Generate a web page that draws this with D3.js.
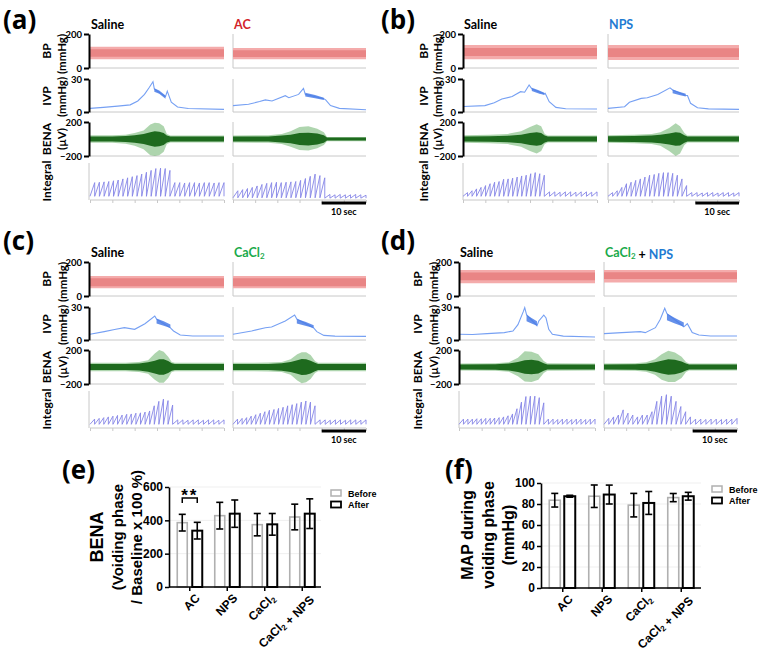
<!DOCTYPE html>
<html><head><meta charset="utf-8">
<script src="https://cdn.jsdelivr.net/npm/d3@7"></script>
<style>body{margin:0;background:#fff}svg{display:block}</style>
</head><body>
<svg id="c" width="761" height="652"></svg>
<script>
// ---------------- DATA ----------------
const panelLetters = ['(a)','(b)','(c)','(d)','(e)','(f)'];
const conditions = ['AC','NPS','CaCl2','CaCl2 + NPS'];
const traceTime = [0, 30]; // seconds shown per trace
const scaleBarSec = 10;
const bpTicks = [0, 200], ivpTicks = [0, 30], benaTicks = [-200, 200];
// trace order: a-Saline, a-AC, b-Saline, b-NPS, c-Saline, c-CaCl2, d-Saline, d-CaCl2+NPS
const bpBand = [[51,125],[51,118],[51,135],[47,135],[45,118],[45,118],[75,153],[80,153]];
const bpCore = [[66,110],[64,104],[70,118],[64,116],[58,104],[58,104],[92,138],[100,140]];

const ivpLines = [
 [[0,3.3],[3,4.2],[6.2,5.3],[9,6.5],[10.7,10],[12.2,16],[13.3,22.5],[14.1,27.5],[14.4,21],[16.9,14],[17.3,19],[18.2,9],[19.6,4.5],[22,3.2],[30,2.4]],
 [[0,5.8],[3.5,7],[6,9.5],[7.3,11],[8.8,10],[11.8,14.8],[12.6,13],[14.8,16],[15.9,21.5],[16.3,16],[20.5,12],[20.9,11],[22,5.8],[24,3.3],[30,2]],
 [[0,5],[4.9,5.8],[7,8.5],[8.7,11.8],[11,14],[12.9,18.5],[13.8,18],[14.8,24.5],[15.4,21],[18.2,16.5],[18.4,17],[19.3,9.4],[20.8,4.2],[23,3],[30,2.7]],
 [[0,3.3],[3.8,4.8],[4.9,8.8],[7.6,12.4],[9,13],[11.4,16],[14.2,22],[14.8,20],[17.8,15],[18.2,15],[18.9,7.9],[20.5,3.9],[23,2.8],[30,2.4]],
 [[0,5.2],[3.2,7.6],[5.5,9.5],[7.7,11.2],[10,9.7],[12.3,14.8],[14.5,21.8],[14.9,19],[18,11],[18.7,8.2],[20.2,4.5],[23,3.7],[30,3.6]],
 [[0,5.2],[4.2,8.2],[7.3,11.2],[8.7,11.8],[11.8,17.3],[13.9,22.7],[14.4,19],[18.2,11],[18.9,7.6],[20.5,4.2],[23,3.5],[30,3.3]],
 [[0,5.2],[3,5],[6.2,5.8],[10,6.7],[11.9,8.2],[13,14],[14.2,26],[14.5,29.5],[14.9,23],[17.2,13],[17.6,17.3],[18.7,22.7],[19.2,20],[19.8,9.7],[20.6,5.2],[23,3.5],[30,2.7]],
 [[0,5.8],[4,6.7],[8.2,7.6],[9.3,6.7],[11.6,11.2],[12.7,18.8],[13.7,28.8],[14.2,24],[18,12],[18.8,14.8],[19.9,6.7],[21.4,4.5],[24,3.7],[30,3.6]]
];
// voiding oscillation band: [t, low, high]
const ivpVoidBands = [
 [[14.4,18.5,21.5],[15.5,16.5,19.5],[16.9,12,15]],
 [[16.3,14,17.5],[18.5,12.5,15.5],[20.5,11,13]],
 [[15.4,19,22],[16.8,17,20],[18.2,15.5,17.5]],
 [[14.8,17,20.5],[16.3,15.5,18.5],[17.8,14,16.5]],
 [[14.9,15,19.5],[16.5,13,17],[18,11,14]],
 [[14.4,15,19],[16.3,13,16.5],[18.2,11,13.5]],
 [[14.9,17,23],[16,15,20],[17.2,13,17]],
 [[14.2,18,24],[16,15,20],[18,12,16]]
];
// BENA envelopes (µV): time points, dense core amplitude, outer spike extent up / down
const benaT = [
 [0,5,8,10,12,13.5,14.5,15.5,16.5,17.2,18,30],
 [0,8,11,13,15,17,19,20.5,21.2,30],
 [0,6,10,13,15,16.5,17.5,18.3,19,30],
 [0,6,10,12,14,15.5,16.5,17.5,18.2,30],
 [0,8,11,13,14.5,15.5,16.5,17.5,18.3,19,30],
 [0,8,11,13,14.5,15.5,16.5,17.5,18.5,19.2,30],
 [0,8,11,13,14.5,16,17.5,18.7,19.5,30],
 [0,7,9.5,11.5,13,14.5,16,17.5,18.5,19.2,30]
];
const benaCore = [
 [30,30,35,45,60,80,90,85,70,40,28,28],
 [28,30,40,50,70,75,65,45,18,18],
 [30,32,38,50,70,80,70,40,30,28],
 [32,35,40,50,65,80,75,45,30,28],
 [36,36,42,55,75,90,90,70,45,36,36],
 [36,36,45,60,80,95,90,75,50,36,36],
 [30,32,40,60,80,85,75,45,30,30],
 [30,32,38,55,75,90,85,65,40,30,30]
];
const benaUp = [
 [45,45,50,70,100,170,190,185,150,60,40,40],
 [40,45,60,90,140,150,120,80,25,25],
 [45,50,60,90,140,175,150,60,40,40],
 [45,50,60,80,130,185,150,70,40,40],
 [50,50,60,80,160,200,180,120,60,50,50],
 [50,52,60,90,150,175,175,140,70,50,50],
 [40,45,55,110,185,180,150,70,45,40],
 [40,45,55,90,150,190,170,120,60,40,40]
];
const benaDown = [
 [45,45,55,80,120,190,200,190,150,60,40,40],
 [40,45,60,90,130,135,110,70,25,25],
 [45,50,60,90,140,170,140,60,40,40],
 [45,50,60,80,140,200,170,70,40,40],
 [50,50,60,80,150,185,185,130,60,50,50],
 [50,52,60,90,160,190,180,140,70,50,50],
 [40,45,55,110,170,175,150,70,45,40],
 [40,45,55,90,150,175,175,130,60,40,40]
];
// Integral sawtooth segments: [tStart, tEnd, base, tooth peaks]
const integralSegs = [
 [[0,17.9,10,[47,48,49,50,52,54,57,60,63,66,70,75,80,85,86,85,80]],[17.9,30,10,[47,47,46,47,47,46,47,47,46,47,47]]],
 [[0,20.7,6,[25,28,31,34,38,42,45,47,48,47,48,49,50,53,58,64,70,66,60]],[20.7,30,5,[15,14,15,14,14,15,14,13]]],
 [[0,18.2,10,[20,25,30,34,39,44,48,50,56,57,59,62,65,67,71,74,71,67]],[18.2,30,10,[22,22,21,22,22,21,22,22,21,22]]],
 [[0,18,10,[20,25,34,44,48,53,57,62,67,69,72,74,74,72,67,57,39]],[18,30,10,[20,20,19,20,20,19,20,20,19,20]]],
 [[0,18.5,10,[24,26,28,30,32,34,35,37,38,40,41,43,46,60,72,78,74,62]],[18.5,30,10,[22,22,21,22,22,21,22,22,21,22]]],
 [[0,18.5,10,[24,26,28,32,36,40,44,48,50,53,56,60,63,66,70,73,70,60]],[18.5,30,10,[22,22,21,22,22,21,22,22,21,22]]],
 [[0,18.7,10,[24,24,24,25,25,26,26,27,28,30,33,38,52,70,85,86,86,82,68]],[18.7,30,10,[24,24,23,24,24,23,24,24,23,24,24]]],
 [[0,19.5,10,[26,30,35,49,40,35,30,35,35,44,72,86,90,86,72,58,44,30]],[19.5,30,10,[24,24,23,24,24,23,24,24,26]]]
];

// bar charts (mean, SEM)
const benaBefore = [386,428,374,420], benaBeforeErr = [50,80,67,77];
const benaAfter  = [338,440,376,440], benaAfterErr  = [50,82,65,89];
const benaYTicks = [0,200,400,600];
const mapBefore = [83.6,87.4,78.9,86.1], mapBeforeErr = [6.5,10.7,11.2,3.9];
const mapAfter  = [87.4,89.0,81.0,87.4], mapAfterErr  = [0.9,9.0,10.9,3.7];
const mapYTicks = [0,20,40,60,80,100];
const legendLabels = ['Before','After'];

// ---------------- LAYOUT / STYLE ----------------
const svg = d3.select('#c');
const TF = 'Lato, "Open Sans", sans-serif';
const AF = '"Liberation Sans", Arial, sans-serif';
const condColor = {AC:'#d2232a', NPS:'#1f7bd2', CaCl2:'#1aaa4b'};
const panels = [
 {lx:3,  ly:29,  axisX:89,  cols:[[90,224],[233,366]], top:0,   lab:47,  unit:62},
 {lx:381,ly:29,  axisX:463, cols:[[463,597],[608,739]], top:0,  lab:424, unit:438},
 {lx:3,  ly:250, axisX:89,  cols:[[90,224],[233,366]], top:228, lab:47,  unit:63},
 {lx:381,ly:250, axisX:459, cols:[[459,595],[604,737]], top:228, lab:418, unit:434}
];
const GRAY = '#c8c8c8';

function addRichText(sel, str, baseColor, subSize){
  const parts = str.split(' + ');
  parts.forEach((p,i)=>{
    if(i>0) sel.append('tspan').attr('fill','#000').text(' + ');
    const col = baseColor || condColor[p] || '#000';
    if(p==='CaCl2'){
      sel.append('tspan').attr('fill',col).text('CaCl');
      sel.append('tspan').attr('fill',col).attr('font-size',subSize).attr('dy','0.3em').text('2');
      sel.append('tspan').attr('dy','-0.3em').text('');
    } else sel.append('tspan').attr('fill',col).text(p);
  });
}
function vtext(x,y,str,size,weight,font){
  return svg.append('text').attr('transform',`translate(${x},${y}) rotate(-90)`)
    .attr('text-anchor','middle').attr('dy','0.35em').attr('font-family',font||TF)
    .attr('font-weight',weight||700).attr('font-size',size).text(str);
}

panels.forEach((P,pi)=>{
  const T = P.top;
  svg.append('text').attr('x',P.lx).attr('y',P.ly).attr('font-family','"Open Sans", sans-serif')
    .attr('font-weight',700).attr('font-size',26).text(panelLetters[pi]);
  vtext(P.lab, T+51, 'BP', 12);
  vtext(P.unit, T+54, '(mmHg)', 11.5);
  vtext(P.lab, T+96, 'IVP', 12);
  vtext(P.unit, T+97, '(mmHg)', 11.5);
  vtext(P.lab, T+139, 'BENA', 12);
  vtext(P.unit, T+139, '(µV)', 11.5);
  vtext(P.lab, T+181, 'Integral', 12);

  P.cols.forEach((col,ci)=>{
    const k = pi*2+ci;
    const x = d3.scaleLinear(traceTime, col);
    const yBP = d3.scaleLinear([0,200],[T+68,T+34]);
    const yIVP = d3.scaleLinear([0,30],[T+112,T+79]);
    const yB = d3.scaleLinear([-200,200],[T+156,T+122]);
    const yI = d3.scaleLinear([0,100],[T+200,T+163]);
    const ax = ci===0 ? P.axisX : col[0];
    const tt = svg.append('text').attr('x',col[0]+1).attr('y',T+29).attr('font-family',TF)
      .attr('font-weight',700).attr('font-size',12.5);
    if(ci===0) tt.text('Saline'); else addRichText(tt, conditions[pi], null, 8);

    [[T+34,T+68],[T+79,T+112],[T+122,T+156],[T+163,T+200]].forEach(([a,b])=>{
      svg.append('line').attr('x1',col[0]).attr('x2',col[1]).attr('y1',b).attr('y2',b)
        .attr('stroke',GRAY).attr('stroke-width',1);
      if(ci===1 || a===T+163)
        svg.append('line').attr('x1',ax).attr('x2',ax).attr('y1',a).attr('y2',b)
          .attr('stroke',GRAY).attr('stroke-width',1);
    });
    svg.append('g').attr('transform',`translate(0,${T+200})`)
      .call(d3.axisBottom(x).tickValues(d3.range(traceTime[0],traceTime[1]+0.01,5)).tickSize(3).tickFormat(''))
      .call(g=>{g.select('.domain').remove(); g.selectAll('line').attr('stroke',GRAY);});

    // BP band
    svg.append('path').datum(traceTime).attr('fill','#f4abab')
      .attr('d',d3.area().x(d=>x(d)).y0(yBP(bpBand[k][0])).y1(yBP(bpBand[k][1])));
    svg.append('path').datum(traceTime).attr('fill','#e67c7c').attr('opacity',0.8)
      .attr('d',d3.area().x(d=>x(d)).y0(yBP(bpCore[k][0])).y1(yBP(bpCore[k][1])));

    // IVP
    svg.append('path').datum(ivpLines[k]).attr('fill','none').attr('stroke','#76a0f3').attr('stroke-width',1.1)
      .attr('d',d3.line().x(d=>x(d[0])).y(d=>yIVP(d[1])));
    svg.append('path').datum(ivpVoidBands[k]).attr('fill','#4a7de6').attr('opacity',0.85)
      .attr('d',d3.area().x(d=>x(d[0])).y0(d=>yIVP(d[1])).y1(d=>yIVP(d[2])));

    // BENA
    const bd = benaT[k].map((t,i)=>({t,c:benaCore[k][i],u:benaUp[k][i],d:benaDown[k][i]}));
    svg.append('path').datum(bd).attr('fill','#5eab5e').attr('opacity',0.5)
      .attr('d',d3.area().x(d=>x(d.t)).y0(d=>yB(-d.d)).y1(d=>yB(d.u)));
    svg.append('path').datum(bd).attr('fill','#1e6a1e')
      .attr('d',d3.area().x(d=>x(d.t)).y0(d=>yB(-d.c)).y1(d=>yB(d.c)));

    // Integral sawtooth
    const pts = [];
    integralSegs[k].forEach(([t0,t1,base,peaks])=>{
      const dt=(t1-t0)/peaks.length;
      peaks.forEach((p,i)=>{ pts.push([t0+i*dt,base]); pts.push([t0+(i+1)*dt,p]); });
      pts.push([t1,base]);
    });
    svg.append('path').datum(pts).attr('fill','none').attr('stroke','#8585e6').attr('stroke-width',0.9)
      .attr('d',d3.line().x(d=>x(d[0])).y(d=>yI(d[1])));

    if(ci===0){
      [[yBP,bpTicks],[yIVP,ivpTicks],[yB,benaTicks]].forEach(([ys,tv])=>{
        svg.append('g').attr('transform',`translate(${P.axisX},0)`)
          .call(d3.axisLeft(ys).tickValues(tv).tickSize(5).tickSizeOuter(0).tickPadding(2))
          .call(g=>{g.select('.domain').attr('stroke-width',2);
            g.selectAll('line').attr('stroke-width',2);
            g.selectAll('text').attr('font-family',TF).attr('font-weight',700).attr('font-size',9.5);});
      });
    } else {
      svg.append('line').attr('x1',x(traceTime[1]-scaleBarSec)).attr('x2',x(traceTime[1]))
        .attr('y1',T+203).attr('y2',T+203).attr('stroke','#000').attr('stroke-width',3);
      svg.append('text').attr('x',(x(traceTime[1]-scaleBarSec)+x(traceTime[1]))/2).attr('y',T+215)
        .attr('text-anchor','middle').attr('font-family',TF).attr('font-weight',700).attr('font-size',9)
        .text(scaleBarSec+' sec');
    }
  });
});

// ---------------- BAR CHARTS ----------------
function barChart(o){
  const y = d3.scaleLinear(o.domain,[o.y0,o.y1]);
  const x = d3.scaleBand(conditions,o.xr);
  svg.append('text').attr('x',o.lx).attr('y',479).attr('font-family','"Open Sans", sans-serif')
    .attr('font-weight',700).attr('font-size',26).text(o.letter);
  o.ticks.slice(1).forEach(t=>svg.append('line').attr('x1',o.xr[0]-2).attr('x2',o.xr[1]).attr('y1',y(t)).attr('y2',y(t))
    .attr('stroke','#efefef').attr('stroke-width',1));
  conditions.forEach((c,i)=>{
    const cx = x(c)+x.bandwidth()/2;
    [[o.before[i],o.beforeErr[i],cx+o.bOff,'#b0b0b0',1.6],[o.after[i],o.afterErr[i],cx+o.aOff,'#000',2]].forEach(([v,e,bx,col,sw])=>{
      svg.append('rect').attr('x',bx).attr('y',y(v)).attr('width',o.bw).attr('height',y(0)-y(v))
        .attr('fill','none').attr('stroke',col).attr('stroke-width',sw);
      const mx = bx+o.bw/2;
      svg.append('line').attr('x1',mx).attr('x2',mx).attr('y1',y(v-e)).attr('y2',y(v+e)).attr('stroke','#000').attr('stroke-width',1.6);
      [v-e,v+e].forEach(vv=>svg.append('line').attr('x1',mx-3.5).attr('x2',mx+3.5).attr('y1',y(vv)).attr('y2',y(vv))
        .attr('stroke','#000').attr('stroke-width',1.6));
    });
    svg.append('line').attr('x1',cx).attr('x2',cx).attr('y1',y(0)).attr('y2',y(0)+4).attr('stroke','#000').attr('stroke-width',1.5);
    const lt = svg.append('text').attr('transform',`translate(${cx+5},${y(0)+6}) rotate(-45)`)
      .attr('text-anchor','end').attr('dy','0.7em').attr('font-family',AF).attr('font-weight',700).attr('font-size',12);
    addRichText(lt, c, '#000', 8);
  });
  svg.append('g').attr('transform',`translate(${o.xr[0]-2},0)`)
    .call(d3.axisLeft(y).tickValues(o.ticks).tickSize(4).tickSizeOuter(0).tickPadding(2))
    .call(g=>{g.select('.domain').attr('stroke-width',1.6);
      g.selectAll('line').attr('stroke-width',1.5);
      g.selectAll('text').attr('font-family',AF).attr('font-weight',700).attr('font-size',12);});
  svg.append('line').attr('x1',o.xr[0]-2).attr('x2',o.xr[1]).attr('y1',y(0)).attr('y2',y(0)).attr('stroke','#000').attr('stroke-width',1.6);
  o.ylab.forEach(([t,xx,sz])=>vtext(xx,o.ylabY,t,sz,700,AF));
  legendLabels.forEach((l,i)=>{
    svg.append('rect').attr('x',o.legX).attr('y',o.legY+i*11.5).attr('width',10).attr('height',6)
      .attr('fill','none').attr('stroke',i?'#000':'#b0b0b0').attr('stroke-width',i?1.8:1.5);
    svg.append('text').attr('x',o.legX+17).attr('y',o.legY+i*11.5+6.5).attr('font-family',AF)
      .attr('font-weight',700).attr('font-size',9).text(l);
  });
  return {x,y};
}

const E = barChart({letter:'(e)', lx:62, domain:[0,600], y0:587, y1:487, xr:[171,321], bw:10, bOff:-12.5, aOff:2.5,
  ticks:benaYTicks, before:benaBefore, beforeErr:benaBeforeErr, after:benaAfter, afterErr:benaAfterErr,
  ylab:[['BENA',97,18],['(Voiding phase',118,15],['/ Baseline x 100 %)',137,15]], ylabY:537, legX:331, legY:490});
{
  const cx = E.x('AC')+E.x.bandwidth()/2;
  const x1 = cx-7.5, x2 = cx+7.5;
  svg.append('path').attr('d',`M${x1},503V498H${x2}V503`).attr('fill','none').attr('stroke','#000').attr('stroke-width',1.5);
  svg.append('text').attr('x',cx).attr('y',501).attr('text-anchor','middle').attr('font-family',AF)
    .attr('font-weight',700).attr('font-size',17).attr('letter-spacing',2).text('**');
}
barChart({letter:'(f)', lx:445, domain:[0,100], y0:588, y1:483, xr:[543,701], bw:11, bOff:-13.5, aOff:1.5,
  ticks:mapYTicks, before:mapBefore, beforeErr:mapBeforeErr, after:mapAfter, afterErr:mapAfterErr,
  ylab:[['MAP during',467,16],['voiding phase',488,16],['(mmHg)',508,16]], ylabY:535, legX:712, legY:486});
</script></body></html>
